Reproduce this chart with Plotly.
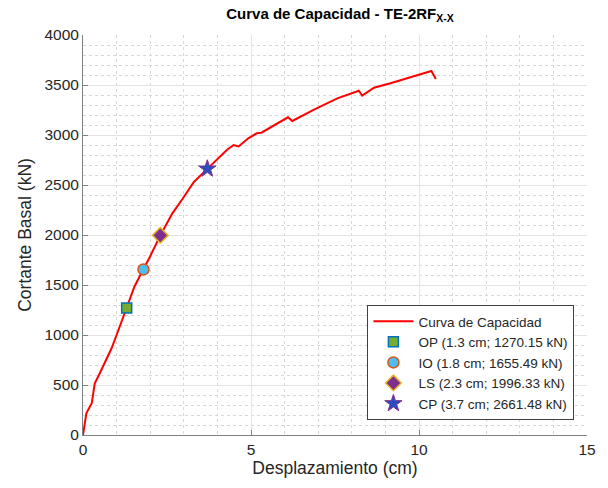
import plotly.graph_objects as go

desplazamiento = [0, 0.1, 0.26, 0.35, 0.5, 0.85, 1.0, 1.3, 1.53, 1.68, 1.8, 1.97, 2.3,
                  2.66, 2.96, 3.3, 3.7, 4.28, 4.48, 4.63, 4.92, 5.17, 5.31, 5.71, 6.10,
                  6.23, 6.89, 7.57, 8.21, 8.31, 8.66, 9.15, 9.74, 10.37, 10.50]
cortante = [0, 217, 317, 517, 617, 867, 1000, 1270, 1483, 1583, 1655, 1767, 1996,
            2217, 2360, 2530, 2661, 2850, 2900, 2885, 2967, 3017, 3023, 3100, 3177,
            3140, 3257, 3367, 3443, 3393, 3473, 3517, 3577, 3640, 3560]

pt_names = ["OP", "IO", "LS", "CP"]
pt_x = [1.3, 1.8, 2.3, 3.7]
pt_y = [1270.15, 1655.49, 1996.33, 2661.48]
pt_symbols = ["square", "circle", "diamond", "star"]
pt_fill = ["#77AC30", "#4DBEEE", "#7E2F8E", "#2A4DC0"]
pt_edge = ["#0072BD", "#D95319", "#EDB120", "#7E2F8E"]
pt_edge_w = [1.5, 1.5, 1.5, 1]
pt_size = [10, 11, 12, 13]

fig = go.Figure()
fig.add_trace(go.Scatter(x=desplazamiento, y=cortante, mode="lines",
                         line=dict(color="#FF0000", width=2),
                         name="Curva de Capacidad"))
for n, x, y, s, f, e, ew, sz in zip(pt_names, pt_x, pt_y, pt_symbols, pt_fill, pt_edge,
                                    pt_edge_w, pt_size):
    fig.add_trace(go.Scatter(x=[x], y=[y], mode="markers",
                             marker=dict(symbol=s, size=sz, color=f,
                                         line=dict(color=e, width=ew)),
                             name=f"{n} ({x} cm; {y:.2f} kN)"))

FONT = "Liberation Sans, Arial"
axis_common = dict(
    showgrid=True, gridcolor="#E3E3E3", gridwidth=1,
    zeroline=False, showline=True, linecolor="#808080", linewidth=1,
    ticks="inside", ticklen=5, tickcolor="#808080",
    tickfont=dict(family=FONT, size=15.5, color="#262626"),
)

fig.update_layout(
    width=608, height=488,
    margin=dict(l=83, r=16, t=35, b=53),
    paper_bgcolor="white", plot_bgcolor="white",
    title=dict(text="<b>Curva de Capacidad - TE-2RF<sub>X-X</sub></b>",
               x=340 / 608, xanchor="center", y=0.972, yanchor="middle",
               font=dict(family=FONT, size=15, color="black")),
    xaxis=dict(range=[0, 15], dtick=5,
               title=dict(text="Desplazamiento (cm)", standoff=4,
                          font=dict(family=FONT, size=17.5, color="#262626")),
               minor=dict(dtick=1, showgrid=True, gridcolor="#D8D8D8", griddash="dot", ticks=""),
               **axis_common),
    yaxis=dict(range=[0, 4000], dtick=500,
               title=dict(text="Cortante Basal (kN)", standoff=8,
                          font=dict(family=FONT, size=17.5, color="#262626")),
               minor=dict(dtick=100, showgrid=True, gridcolor="#D8D8D8", griddash="dot", ticks=""),
               **axis_common),
    legend=dict(x=0.975, xanchor="right", y=0.0375, yanchor="bottom",
                bgcolor="white", bordercolor="#404040", borderwidth=1,
                font=dict(family=FONT, size=13.5, color="#262626"),
                tracegroupgap=0, itemwidth=40),
    showlegend=True,
)

fig.write_html("out.html")
